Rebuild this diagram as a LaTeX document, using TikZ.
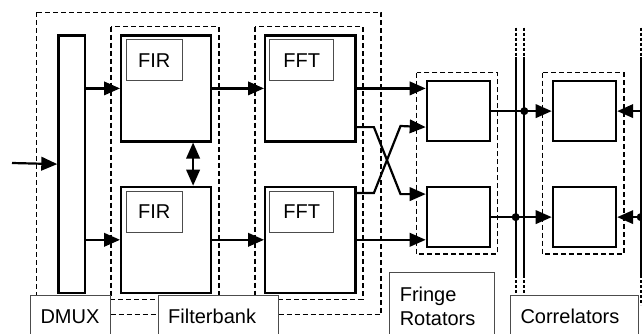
\documentclass[tikz,border=0pt]{standalone}
\usepackage{fontspec}
\setmainfont{Liberation Sans}
\usetikzlibrary{arrows.meta}
\begin{document}
\begin{tikzpicture}[x=1pt, y=-1pt,
    blk/.style={draw, line width=2.2pt, inner sep=0pt, anchor=north west},
    tag/.style={draw=gray!60!black, line width=1pt, inner sep=0pt, anchor=north west,
        minimum height=41pt, font=\fontsize{20}{24}\selectfont},
    lbl/.style={draw=gray!60!black, line width=1pt, fill=white, anchor=north west,
        align=left, inner xsep=10pt, inner ysep=13pt, font=\fontsize{20}{24.5}\selectfont},
    grp/.style={line width=1.5pt, dash pattern=on 5pt off 3pt},
    bus/.style={line width=2pt},
    busd/.style={line width=2pt, dash pattern=on 3pt off 2pt},
    arr/.style={line width=2.2pt, -{Triangle[length=16pt, width=13.5pt]}},
    darr/.style={line width=2.2pt, {Triangle[length=16pt, width=13.5pt]}-{Triangle[length=16pt, width=13.5pt]}}]
    \useasboundingbox (0,0) rectangle (642,333);
    % dashed groups
    \draw[grp] (36.7,12.3) rectangle (381,314.5);
    \draw[grp] (111,26.7) rectangle (219,299.3);
    \draw[grp] (255,26.7) rectangle (363,299.3);
    \draw[grp] (416.7,72.7) rectangle (497.7,254);
    \draw[grp] (542.7,72.7) rectangle (624,254);
    % blocks
    \node[blk, minimum width=26.7pt, minimum height=257.4pt] (dmux) at (57.3,34.3) {};
    \node[blk, minimum width=90pt, minimum height=106pt] (firA) at (120,34.3) {};
    \node[blk, minimum width=90pt, minimum height=106pt] (firB) at (120,185.7) {};
    \node[blk, minimum width=90.3pt, minimum height=106pt] (fftA) at (264,34.3) {};
    \node[blk, minimum width=90.3pt, minimum height=106pt] (fftB) at (264,185.7) {};
    \node[tag, minimum width=56pt] (firAt) at (125.7,39.3) {FIR};
    \node[tag, minimum width=56pt] (firBt) at (125.7,191) {FIR};
    \node[tag, minimum width=64pt] (fftAt) at (269.3,39.3) {FFT};
    \node[tag, minimum width=64pt] (fftBt) at (269.3,191) {FFT};
    \node[blk, minimum width=63.3pt, minimum height=60pt] (frA) at (425.7,80) {};
    \node[blk, minimum width=63.3pt, minimum height=60pt] (frB) at (425.7,186) {};
    \node[blk, minimum width=63.3pt, minimum height=60pt] (crA) at (551.7,80) {};
    \node[blk, minimum width=63.3pt, minimum height=60pt] (crB) at (551.7,186) {};
    % buses
    \coordinate (busA) at (515.7,0);
    \coordinate (busB) at (524.3,0);
    \coordinate (busC) at (640.7,0);
    \coordinate (busD) at (650,0);
    \foreach \x in {515.7,524.3,640.7} {
        \draw[bus] (\x,56.7) -- (\x,275);
        \draw[busd] (\x,27.7) -- (\x,56.7);
    }
    \draw[busd] (515.7,275) -- (515.7,293) (524.3,275) -- (524.3,293) (640.7,275) -- (640.7,305);
    % connections
    \coordinate (in) at (12,163);
    \draw[arr] (in) -- (dmux.west);
    \draw[arr] (firA.west -| dmux.east) -- (firA.west);
    \draw[arr] (firB.west -| dmux.east) -- (firB.west);
    \draw[darr] ([xshift=27pt]firA.south) -- ([xshift=27pt]firB.north);
    \draw[arr] (firA.east) -- (fftA.west);
    \draw[arr] (firB.east) -- (fftB.west);
    \draw[arr] (fftA.east) -- (fftA.east -| frA.west);
    \draw[arr] (fftB.east) -- (fftB.east -| frB.west);
    \draw[arr] ([yshift=-38.7pt]fftA.east) -- ++(17.4,0) -- ++(26.6,67) -- ([yshift=23pt]frB.west);
    \draw[arr] ([yshift=-7.3pt]fftB.north east) -- ++(17.4,0) -- ++(26.6,-67) -- ([yshift=-16pt]frA.west);
    \draw[arr] (frA.east) -- (crA.west);
    \draw[arr] (frB.east) -- (crB.west);
    \fill (frA.east -| busB) circle (4pt);
    \fill (frB.east -| busA) circle (4pt);
    \draw[arr] (crA.east -| busD) -- (crA.east);
    \draw[arr] (crB.east -| busC) -- (crB.east);
    \fill (crB.east -| busC) circle (4pt);
    % labels
    \node[lbl, text width=60pt, text height=15pt, text depth=5pt] (dmuxl) at (30,295) {DMUX};
    \node[lbl, text width=100pt, text height=15pt, text depth=5pt] (fbl) at (157.7,295) {Filterbank};
    \node[lbl, text width=84.7pt, inner ysep=14.5pt] (frl) at (389.3,271.7) {Fringe\\Rotators};
    \node[lbl, text width=107.7pt, text height=15pt, text depth=5pt] (crl) at (510,295) {Correlators};
\end{tikzpicture}
\end{document}
